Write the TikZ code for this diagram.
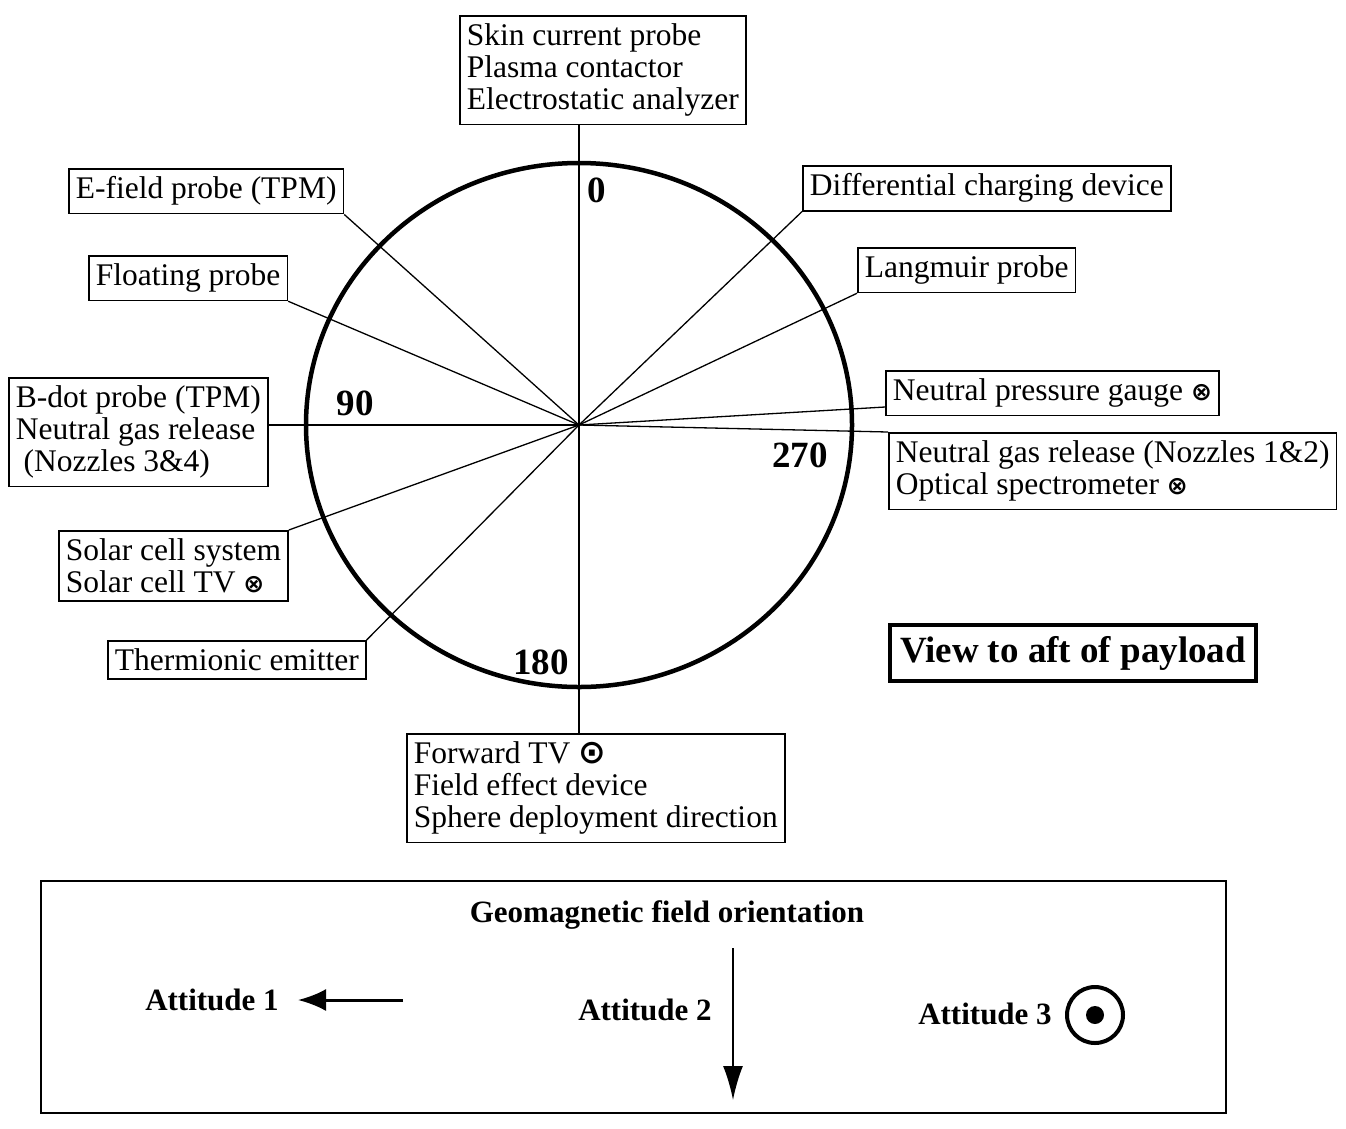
\documentclass[tikz,border=0pt]{standalone}
\usepackage{fontspec}
\setmainfont{Liberation Serif}
\newfontfamily\symfont{DejaVu Sans}
\usetikzlibrary{arrows.meta, positioning, calc}
\newcommand{\inmark}{{\symfont\bfseries\fontsize{25}{25}\selectfont ⊗}}
\newcommand{\outmark}{{\symfont\bfseries\fontsize{33}{33}\selectfont ⊙}}

\begin{document}
\begin{tikzpicture}[x=1pt, y=-1pt,
  part/.style={draw, line width=1.6pt, align=left, anchor=north west, inner xsep=7pt, inner ysep=8pt, font=\fontsize{31.5}{32}\selectfont},
  deg/.style={font=\fontsize{37}{37}\selectfont\bfseries},
  spoke/.style={line width=1.3pt},
  att/.style={font=\fontsize{31}{31}\selectfont\bfseries}]

  \useasboundingbox (0,0) rectangle (1346,1128);
  \coordinate (c) at (579,425);
  \draw[line width=4.5pt] (c) ellipse [x radius=273, y radius=262];

  % instruments round the hull
  \node[part] (skin) at (459,15) {Skin current probe\\Plasma contactor\\Electrostatic analyzer};
  \node[part] (efield) at (68,168) {E-field probe (TPM)};
  \node[part] (diff) at (802,165) {Differential charging device};
  \node[part] (lang) at (857,247) {Langmuir probe};
  \node[part] (float) at (88,255) {Floating probe};
  \node[part] (bdot) at (8,377) {B-dot probe (TPM)\\Neutral gas release\\\hspace{0.25em}(Nozzles 3\&4)};
  \node[part] (npg) at (885,370) {Neutral pressure gauge \inmark};
  \node[part] (ngr) at (888,432) {Neutral gas release (Nozzles 1\&2)\\Optical spectrometer \inmark};
  \node[part] (solar) at (58,530) {Solar cell system\\Solar cell TV \inmark};
  \node[part] (therm) at (107,640) {Thermionic emitter};
  \node[part] (fwd) at (406,733) {Forward TV \outmark\\Field effect device\\Sphere deployment direction};
  \node[part, line width=4pt, inner xsep=10pt, inner ysep=11pt, font=\fontsize{37}{37}\selectfont\bfseries] (view) at (888,623) {View to aft of payload};

  % angles
  \node[deg] (d0) at (597,190) {0};
  \node[deg] (d90) at (355,403) {90};
  \node[deg] (d270) at (800,455) {270};
  \node[deg] (d180) at (541,662) {180};

  % spokes from the centre
  \draw[spoke] (c |- skin.south) -- (c |- fwd.north);
  \draw[spoke] (bdot.east |- c) -- (c);
  \draw[spoke] (efield.south east) -- (c);
  \draw[spoke] (float.south east) -- (c);
  \draw[spoke] (diff.south west) -- (c);
  \draw[spoke] (lang.south west) -- (c);
  \draw[spoke] ($(npg.south west)!0.2!(npg.north west)$) -- (c);
  \draw[spoke] (ngr.north west) -- (c);
  \draw[spoke] (solar.north east) -- (c);
  \draw[spoke] (therm.north east) -- (c);

  % field orientation
  \node[draw, line width=2pt, minimum width=1185pt, minimum height=232pt, anchor=north west] (geo) at (40,880) {};
  \node[att] (geotitle) at (667,915) {Geomagnetic field orientation};
  \node[att] (att1) at (212,1000) {Attitude 1};
  \coordinate (a1tail) at (403,1000);
  \coordinate (a1tip) at (298,1000);
  \draw[-{Latex[length=28pt,width=22pt]}, line width=3pt] (a1tail) -- (a1tip);
  \node[att] (att2) at (645,1010) {Attitude 2};
  \coordinate (a2top) at (733,948);
  \coordinate (a2tip) at (733,1100);
  \draw[-{Latex[length=34pt,width=20pt]}, line width=1.8pt] (a2top) -- (a2tip);
  \node[att] (att3) at (985,1014) {Attitude 3};
  \node[circle, draw, line width=4pt, minimum size=56pt] (ring) at (1095,1015) {};
  \fill (ring.center) circle (9);
\end{tikzpicture}
\end{document}
